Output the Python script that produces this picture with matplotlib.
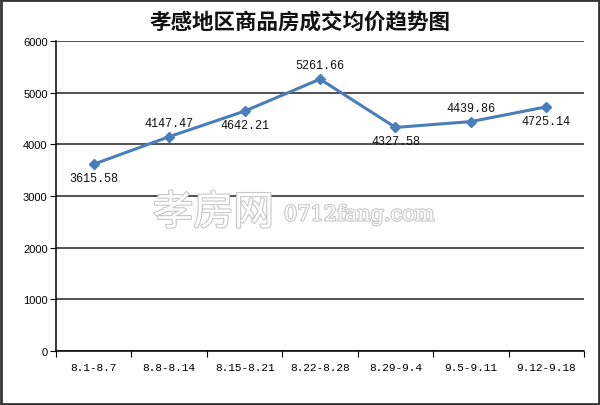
import matplotlib
matplotlib.use("Agg")
import matplotlib.pyplot as plt
import matplotlib.patheffects as pe
import numpy as np

categories = ["8.1-8.7", "8.8-8.14", "8.15-8.21", "8.22-8.28", "8.29-9.4", "9.5-9.11", "9.12-9.18"]
values = [3615.58, 4147.47, 4642.21, 5261.66, 4327.58, 4439.86, 4725.14]
label_pos = ["below", "above", "below", "above", "below", "above", "below"]
yticks = [0, 1000, 2000, 3000, 4000, 5000, 6000]
title = "孝感地区商品房成交均价趋势图"

plt.rcParams['font.family'] = ['Noto Sans CJK SC', 'DejaVu Sans']

fig = plt.figure(figsize=(6.0, 4.06), dpi=100)
ax = fig.add_axes([56/600, 54/406, 528/600, 310/406])

n = len(categories)
x = np.arange(n) + 0.5
color = "#4A7EBB"
ax.plot(x, values, color=color, lw=2.2, marker="D", markersize=5.5, zorder=5)

for xi, v, p in zip(x, values, label_pos):
    off = -10 if p == "below" else 10
    ax.annotate(f"{v:.2f}", (xi, v), xytext=(0, off), textcoords="offset points",
                ha="center", va="center", fontsize=8.5, family="Liberation Mono", color="#111111")

ax.set_xlim(0, n)
ax.set_ylim(0, 6000)
ax.set_yticks(yticks)
ax.set_yticklabels([str(t) for t in yticks], family="Liberation Sans", fontsize=8)
ax.yaxis.grid(True, color="#222222", lw=1.1)
ax.set_axisbelow(True)

ax.set_xticks(np.arange(n + 1))
ax.set_xticklabels([])
ax.set_xticks(x, minor=True)
ax.set_xticklabels(categories, minor=True, family="Liberation Mono", fontsize=8)
ax.tick_params(axis="x", which="minor", length=0, pad=8)
ax.tick_params(axis="x", which="major", length=4, direction="out", color="black")
ax.tick_params(axis="y", length=4, direction="out", color="black", pad=2)

for s in ["top", "right"]:
    ax.spines[s].set_visible(False)
for s in ["left", "bottom"]:
    ax.spines[s].set_color("black")
    ax.spines[s].set_linewidth(1.1)

fig.text(0.5, 1 - 22/406, title, ha="center", va="center", fontsize=15.5, fontweight="bold", color="#111111")

# watermark
stroke = [pe.withStroke(linewidth=1.6, foreground="#c8c8c8")]
fig.text(153/600, 1 - 214/406, "孝房网", ha="left", va="center", fontsize=29,
         color="white", path_effects=stroke, zorder=1)
fig.text(284/600, 1 - 216/406, "0712fang.com", ha="left", va="center", fontsize=15,
         family="DejaVu Serif", color="white", path_effects=stroke, zorder=1)

# outer border
fig.patches.append(plt.Rectangle((0.002, 0.003), 0.996, 0.994, transform=fig.transFigure,
                                 fill=False, edgecolor="#333333", lw=2))

fig.savefig("out.png", dpi=100)
